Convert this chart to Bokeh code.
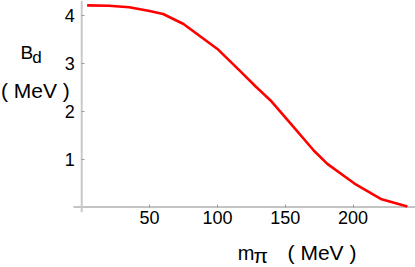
from bokeh.plotting import figure
from bokeh.models import Range1d, LinearAxis, FixedTicker, Label
from bokeh.embed import file_html
from bokeh.resources import INLINE

# pion mass (MeV) and deuteron binding energy (MeV)
m_pi = [4, 20, 35, 50, 60, 75, 88, 100, 117, 128, 139, 154, 171, 181, 201, 221, 240]
B_d = [4.21, 4.20, 4.17, 4.09, 4.03, 3.82, 3.55, 3.30, 2.83, 2.52, 2.23, 1.74, 1.18, 0.90, 0.49, 0.16, 0.01]

x_ticks = [50, 100, 150, 200]
y_ticks = [1, 2, 3, 4]

FONT = "Liberation Sans"

p = figure(width=415, height=267, output_backend="svg", toolbar_location=None,
           x_range=Range1d(-59.84, 245.98), y_range=Range1d(-1.263, 4.311),
           x_axis_type=None, y_axis_type=None,
           min_border_left=0, min_border_right=0, min_border_top=0, min_border_bottom=0)
p.outline_line_color = None
p.grid.visible = False
p.background_fill_color = "white"
p.border_fill_color = "white"

# axis lines (axes cross at the origin, Mathematica style)
p.segment(x0=[-6.1], y0=[0], x1=[245.98], y1=[0], line_color="#8a8a8a", line_width=1)
p.segment(x0=[0], y0=[-0.11], x1=[0], y1=[4.311], line_color="#c8c8c8", line_width=2)

xax = LinearAxis(fixed_location=0, ticker=FixedTicker(ticks=x_ticks))
xax.axis_line_color = None
xax.major_tick_in = 3
xax.major_tick_out = 0
xax.major_tick_line_color = "#9a9a9a"
xax.minor_tick_line_color = None
xax.major_label_text_font = FONT
xax.major_label_text_font_size = "18px"
xax.major_label_text_color = "black"
xax.major_label_standoff = 4
p.add_layout(xax, "below")

yax = LinearAxis(fixed_location=0, ticker=FixedTicker(ticks=y_ticks))
yax.axis_line_color = None
yax.major_tick_in = 3
yax.major_tick_out = 0
yax.major_tick_line_color = "#9a9a9a"
yax.minor_tick_line_color = None
yax.major_label_text_font = FONT
yax.major_label_text_font_size = "18px"
yax.major_label_text_color = "black"
yax.major_label_standoff = 7
p.add_layout(yax, "left")

p.line(m_pi, B_d, line_color="#ff0000", line_width=2.6)

def lab(x, y, t, size, baseline="alphabetic"):
    p.add_layout(Label(x=x, y=y, text=t, text_font=FONT, text_font_size=size,
                       text_color="black", text_align="left", text_baseline=baseline))

lab(-45.1, 3.232, "B", "19px")
lab(-36.5, 3.115, "d", "17px")
lab(-59.5, 2.432, "( MeV )", "21px")
lab(115.0, -0.950, "m", "20px")
lab(126.6, -1.017, "\u03c0", "21px", "middle")
lab(151.7, -0.950, "( MeV )", "21px")

open("out.html", "w").write(file_html(p, INLINE))
